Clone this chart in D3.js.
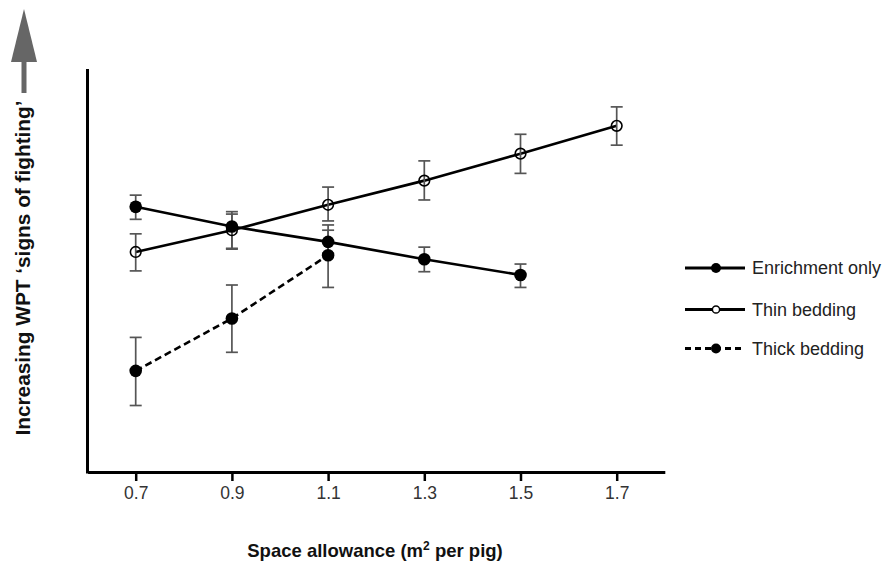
<!DOCTYPE html>
<html>
<head>
<meta charset="utf-8">
<script src="https://cdn.jsdelivr.net/npm/d3@7"></script>
<style>
  html, body { margin: 0; padding: 0; background: #fff; }
  svg { display: block; font-family: "Liberation Sans", Arial, Helvetica, sans-serif; }
</style>
</head>
<body>
<svg id="chart" width="886" height="565"></svg>
<script>
// ---- data (y is an arbitrary, unlabelled score) ----
const categories = [0.7, 0.9, 1.1, 1.3, 1.5, 1.7];
const tickLabels = ["0.7", "0.9", "1.1", "1.3", "1.5", "1.7"];

const enrichX  = [0.7, 0.9, 1.1, 1.3, 1.5];
const enrichY  = [6.58, 6.09, 5.71, 5.28, 4.89];
const enrichLo = [6.27, 5.55, 5.43, 4.97, 4.58];
const enrichHi = [6.87, 6.40, 6.00, 5.58, 5.16];

const thinX  = [0.7, 0.9, 1.1, 1.3, 1.5, 1.7];
const thinY  = [5.46, 6.00, 6.63, 7.23, 7.90, 8.59];
const thinLo = [4.99, 5.53, 6.23, 6.75, 7.41, 8.11];
const thinHi = [5.91, 6.46, 7.07, 7.72, 8.38, 9.06];

const thickX  = [0.7, 0.9, 1.1];
const thickY  = [2.51, 3.81, 5.38];
const thickLo = [1.65, 2.97, 4.58];
const thickHi = [3.34, 4.64, 6.13];

const seriesNames = ["Enrichment only", "Thin bedding", "Thick bedding"];

// ---- build ----
const series = [
  {name: seriesNames[0], x: enrichX, y: enrichY, lo: enrichLo, hi: enrichHi, filled: true,  dashed: false},
  {name: seriesNames[1], x: thinX,   y: thinY,   lo: thinLo,   hi: thinHi,   filled: false, dashed: false},
  {name: seriesNames[2], x: thickX,  y: thickY,  lo: thickLo,  hi: thickHi,  filled: true,  dashed: true}
].map(s => ({...s, pts: s.x.map((xv, i) => ({x: xv, y: s.y[i], lo: s.lo[i], hi: s.hi[i]}))}));

const svg = d3.select("#chart");
const xScale = d3.scaleLinear().domain([0.6, 1.8]).range([87.6, 664.8]);
const yScale = d3.scaleLinear().domain([0, 10]).range([472, 69]);

// x axis
const xAxis = d3.axisBottom(xScale)
  .tickValues(categories)
  .tickFormat((d, i) => tickLabels[i])
  .tickSizeInner(9).tickSizeOuter(0).tickPadding(6);
const gx = svg.append("g").attr("transform", "translate(0,472)").call(xAxis);
gx.select(".domain").attr("stroke", "#000").attr("stroke-width", 3);
gx.selectAll(".tick line").attr("stroke", "#000").attr("stroke-width", 2.5);
gx.selectAll(".tick text").attr("fill", "#333").style("font-size", "17.5px")
  .style("font-family", "'Liberation Sans', Arial, sans-serif");

// y axis (no ticks)
const yAxis = d3.axisLeft(yScale).tickValues([]).tickSizeOuter(0);
const gy = svg.append("g").attr("transform", "translate(87,0)").call(yAxis);
gy.select(".domain").attr("stroke", "#000").attr("stroke-width", 3)
  .attr("d", `M0.5,${yScale(0) + 1.5}V${yScale(10)}`);

// up arrow next to the y title
const arrow = svg.append("g").attr("fill", "#666");
arrow.append("rect").attr("x", 21.5).attr("y", 60).attr("width", 5).attr("height", 33);
arrow.append("path").attr("d", "M24,9 L37,62 L11,62 Z");

// lines
const line = d3.line().x(d => xScale(d.x)).y(d => yScale(d.y));
svg.append("g").selectAll("path").data(series).join("path")
  .attr("d", d => line(d.pts))
  .attr("fill", "none").attr("stroke", "#000").attr("stroke-width", 2.6)
  .attr("stroke-dasharray", d => d.dashed ? "7,4" : null);

// error bars
const eb = svg.append("g").attr("stroke", "#555").attr("stroke-width", 1.7);
series.forEach(s => {
  const g = eb.append("g");
  g.selectAll("line.v").data(s.pts).join("line").attr("class", "v")
    .attr("x1", d => xScale(d.x)).attr("x2", d => xScale(d.x))
    .attr("y1", d => yScale(d.lo)).attr("y2", d => yScale(d.hi));
  g.selectAll("line.t").data(s.pts).join("line").attr("class", "t")
    .attr("x1", d => xScale(d.x) - 6).attr("x2", d => xScale(d.x) + 6)
    .attr("y1", d => yScale(d.hi)).attr("y2", d => yScale(d.hi));
  g.selectAll("line.b").data(s.pts).join("line").attr("class", "b")
    .attr("x1", d => xScale(d.x) - 6).attr("x2", d => xScale(d.x) + 6)
    .attr("y1", d => yScale(d.lo)).attr("y2", d => yScale(d.lo));
});

// markers
series.forEach(s => {
  svg.append("g").selectAll("circle").data(s.pts).join("circle")
    .attr("cx", d => xScale(d.x)).attr("cy", d => yScale(d.y))
    .attr("r", s.filled ? 6.3 : 5.3)
    .attr("fill", s.filled ? "#000" : "none")
    .attr("stroke", "#000").attr("stroke-width", s.filled ? 0 : 1.6);
});

// legend
const legY = [268, 309.5, 348.5];
const leg = svg.append("g");
series.forEach((s, i) => {
  const g = leg.append("g").attr("transform", `translate(0,${legY[i]})`);
  g.append("line").attr("x1", 685).attr("x2", 745).attr("y1", 0).attr("y2", 0)
    .attr("stroke", "#000").attr("stroke-width", 2.8)
    .attr("stroke-dasharray", s.dashed ? "6,4" : null);
  g.append("circle").attr("cx", 716).attr("cy", 0).attr("r", s.filled ? 5 : 3.6)
    .attr("fill", s.filled ? "#000" : "#fff").attr("stroke", "#000")
    .attr("stroke-width", s.filled ? 0 : 1.5);
  g.append("text").attr("x", 752).attr("y", 0).attr("dy", "0.35em")
    .attr("fill", "#222").style("font-size", "18px").text(s.name);
});

// axis titles
const xt = svg.append("text").attr("x", 375).attr("y", 557)
  .attr("text-anchor", "middle").attr("fill", "#111")
  .style("font-size", "18.5px").style("font-weight", "bold");
xt.append("tspan").text("Space allowance (m");
xt.append("tspan").attr("dy", -7).style("font-size", "12px").text("2");
xt.append("tspan").attr("dy", 7).text(" per pig)");

svg.append("text")
  .attr("transform", "translate(30,268) rotate(-90)")
  .attr("text-anchor", "middle").attr("fill", "#111")
  .style("font-size", "20.8px").style("font-weight", "bold")
  .text("Increasing WPT \u2018signs of fighting\u2019");
</script>
</body>
</html>
